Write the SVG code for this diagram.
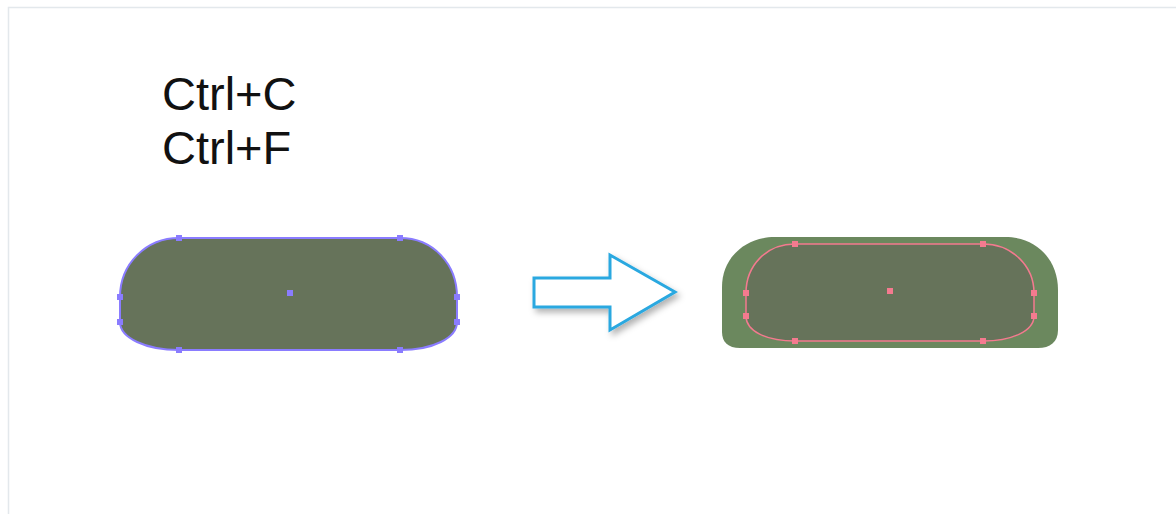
<svg xmlns="http://www.w3.org/2000/svg" width="1176" height="514" viewBox="0 0 1176 514">
<defs>
<style>
.lbl{font-family:"Liberation Sans",Arial,sans-serif;font-size:47px;fill:#111}
.fill{fill:#66735a}
.hp{fill:#8a7cff}
.hr{fill:#f47a8f}
</style>
<filter id="sh" x="-20%" y="-20%" width="150%" height="150%">
<feDropShadow dx="3" dy="4" stdDeviation="3" flood-color="#000" flood-opacity="0.3"/>
</filter>
</defs>
<rect width="1176" height="514" fill="#fff"/>
<path d="M8.5,514 V7.5 H1176" fill="none" stroke="#e3e8ec" stroke-width="1.5"/>
<g id="text">
<text class="lbl" x="162" y="110">Ctrl+C</text>
<text class="lbl" x="162" y="164">Ctrl+F</text>
</g>
<g id="left-shape">
<path class="fill" d="M179,238 L400,238 C433,238 457,264 457,297 L457,322 C457,338 433,350 400,350 L179,350 C146,350 120,338 120,322 L120,297 C120,264 146,238 179,238 Z" stroke="#8a7cff" stroke-width="2"/>
<g class="hp">
<rect x="176" y="235" width="6" height="6"/><rect x="397" y="235" width="6" height="6"/>
<rect x="176" y="347" width="6" height="6"/><rect x="397" y="347" width="6" height="6"/>
<rect x="117" y="294" width="6" height="6"/><rect x="117" y="319" width="6" height="6"/>
<rect x="454" y="294" width="6" height="6"/><rect x="454" y="319" width="6" height="6"/>
<rect x="287" y="290" width="6" height="6"/>
</g>
</g>
<g id="arrow">
<path d="M534,278 L610,278 L610,255 L675,292 L610,330 L610,307 L534,307 Z" fill="#fff" stroke="#29a8e0" stroke-width="3" stroke-linejoin="miter" filter="url(#sh)"/>
</g>
<g id="right-shape">
<path d="M775,237 L1005,237 C1037,237 1058,260 1058,290 L1058,330 C1058,342 1050,348 1038,348 L740,348 C728,348 722,342 722,332 L722,287 C722,258 745,237 775,237 Z" fill="#6b885e"/>
<path class="fill" d="M795,244 L983,244 C1012,244 1034,266 1034,293 L1034,316 C1034,331 1012,341 983,341 L795,341 C766,341 746,331 746,316 L746,293 C746,266 766,244 795,244 Z" stroke="#f47a8f" stroke-width="1.5"/>
<g class="hr">
<rect x="792" y="241" width="6" height="6"/><rect x="980" y="241" width="6" height="6"/>
<rect x="792" y="338" width="6" height="6"/><rect x="980" y="338" width="6" height="6"/>
<rect x="743" y="290" width="6" height="6"/><rect x="743" y="313" width="6" height="6"/>
<rect x="1031" y="290" width="6" height="6"/><rect x="1031" y="313" width="6" height="6"/>
<rect x="887" y="288" width="6" height="6"/>
</g>
</g>
</svg>
